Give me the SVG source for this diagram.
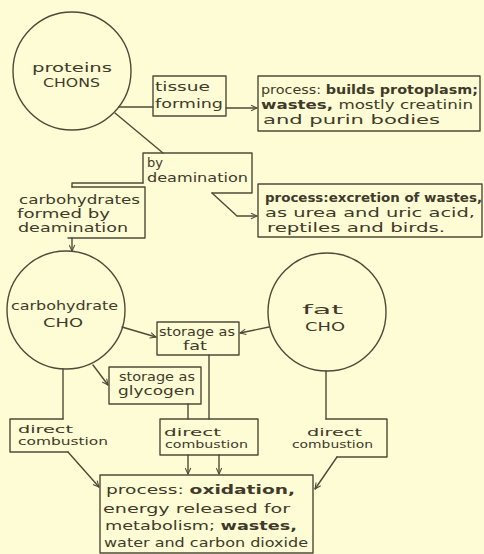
<svg xmlns="http://www.w3.org/2000/svg" width="484" height="554" viewBox="0 0 484 554">
<defs>
<style>
.ln{fill:none;stroke:#4f4a38;stroke-width:1.4;stroke-linecap:round;stroke-linejoin:round}
.t{font-family:"DejaVu Sans","Liberation Sans",sans-serif;fill:#3f3a2a;font-size:13px}
.s{font-size:10.5px}
.b{font-weight:bold}
</style>
<marker id="a" viewBox="0 0 10 10" refX="9.5" refY="5" markerWidth="7" markerHeight="7" orient="auto" markerUnits="userSpaceOnUse">
<path d="M1,1 L9.5,5 L1,9" fill="none" stroke="#4f4a38" stroke-width="1.5"/>
</marker>
</defs>
<rect x="0" y="0" width="484" height="554" fill="#fdfcd4"/>

<g id="connectors" class="ln">
<line x1="119" y1="107" x2="153" y2="107"/>
<line x1="226" y1="108" x2="257" y2="108" marker-end="url(#a)"/>
<line x1="115" y1="113" x2="163" y2="153"/>
<path d="M212,193 L237,216 L257,216" marker-end="url(#a)"/>
<path d="M143,183 H72 V187"/>
<line x1="72" y1="238" x2="72" y2="251" marker-end="url(#a)"/>
<line x1="122" y1="327" x2="156" y2="337" marker-end="url(#a)"/>
<line x1="269" y1="327" x2="240" y2="333" marker-end="url(#a)"/>
<line x1="93" y1="365" x2="108" y2="385" marker-end="url(#a)"/>
<line x1="63" y1="369" x2="63" y2="419"/>
<line x1="209" y1="355" x2="209" y2="419"/>
<line x1="188" y1="404" x2="188" y2="419"/>
<line x1="326" y1="371" x2="326" y2="419"/>
<line x1="68" y1="452" x2="99" y2="487" marker-end="url(#a)"/>
<line x1="188" y1="455" x2="188" y2="474" marker-end="url(#a)"/>
<line x1="219" y1="455" x2="219" y2="474" marker-end="url(#a)"/>
<line x1="337" y1="457" x2="315" y2="489" marker-end="url(#a)"/>
</g>

<g id="proteins">
<circle class="ln" cx="72" cy="71" r="59"/>
<text class="t" x="32" y="72" font-size="15" textLength="80" lengthAdjust="spacingAndGlyphs">proteins</text>
<text class="t" x="43" y="87" font-size="14" textLength="57" lengthAdjust="spacingAndGlyphs">CHONS</text>
</g>

<g id="tissue-forming">
<rect class="ln" x="153" y="76" width="73" height="40"/>
<text class="t" x="155" y="91" textLength="55" lengthAdjust="spacingAndGlyphs">tissue</text>
<text class="t" x="155" y="108" textLength="68" lengthAdjust="spacingAndGlyphs">forming</text>
</g>

<g id="process-protoplasm">
<rect class="ln" x="258" y="76" width="222" height="55"/>
<text class="t" x="261" y="94" font-size="14" textLength="217" lengthAdjust="spacingAndGlyphs">process: <tspan class="b">builds protoplasm;</tspan></text>
<text class="t" x="261" y="109" font-size="14" textLength="212" lengthAdjust="spacingAndGlyphs"><tspan class="b">wastes,</tspan> mostly creatinin</text>
<text class="t" x="263" y="124" font-size="14" textLength="177" lengthAdjust="spacingAndGlyphs">and  purin  bodies</text>
</g>

<g id="by-deamination">
<path class="ln" d="M143,183 V153 H252 V193 H212"/>
<text class="t" x="147" y="167">by</text>
<text class="t" x="147" y="182" textLength="101" lengthAdjust="spacingAndGlyphs">deamination</text>
</g>

<g id="process-excretion">
<rect class="ln" x="258" y="184" width="224" height="53"/>
<text class="t b" x="265" y="202" font-size="14" textLength="217" lengthAdjust="spacingAndGlyphs">process:excretion of wastes,</text>
<text class="t" x="265" y="217" font-size="14" textLength="210" lengthAdjust="spacingAndGlyphs">as urea and uric acid,</text>
<text class="t" x="267" y="232" font-size="14" textLength="178" lengthAdjust="spacingAndGlyphs">reptiles and birds.</text>
</g>

<g id="carbohydrates-formed">
<path class="ln" d="M72,187 H145 V238 H68"/>
<text class="t" x="19" y="204" textLength="121" lengthAdjust="spacingAndGlyphs">carbohydrates</text>
<text class="t" x="17" y="218" textLength="93" lengthAdjust="spacingAndGlyphs">formed  by</text>
<text class="t" x="18" y="232" textLength="110" lengthAdjust="spacingAndGlyphs">deamination</text>
</g>

<g id="carbohydrate">
<circle class="ln" cx="66" cy="310" r="59"/>
<text class="t" x="11" y="310" textLength="107" lengthAdjust="spacingAndGlyphs">carbohydrate</text>
<text class="t" x="43" y="327" font-size="14" textLength="40" lengthAdjust="spacingAndGlyphs">CHO</text>
</g>

<g id="fat">
<circle class="ln" cx="327" cy="312" r="59"/>
<text class="t" x="302" y="314" font-size="19" textLength="41" lengthAdjust="spacingAndGlyphs">fat</text>
<text class="t" x="305" y="331" font-size="14" textLength="40" lengthAdjust="spacingAndGlyphs">CHO</text>
</g>

<g id="storage-fat">
<rect class="ln" x="157" y="322" width="82" height="33"/>
<text class="t" x="159" y="336" font-size="11.5" textLength="76" lengthAdjust="spacingAndGlyphs">storage as</text>
<text class="t" x="183" y="350" font-size="11.5" textLength="24" lengthAdjust="spacingAndGlyphs">fat</text>
</g>

<g id="storage-glycogen">
<rect class="ln" x="109" y="367" width="92" height="37"/>
<text class="t" x="119" y="381" font-size="12" textLength="76" lengthAdjust="spacingAndGlyphs">storage as</text>
<text class="t" x="118" y="395" font-size="14" textLength="77" lengthAdjust="spacingAndGlyphs">glycogen</text>
</g>

<g id="combustion-1">
<path class="ln" d="M63,419 H10 V452 H68"/>
<text class="t s" x="18" y="433" textLength="55" lengthAdjust="spacingAndGlyphs">direct</text>
<text class="t s" x="18" y="445" textLength="90" lengthAdjust="spacingAndGlyphs">combustion</text>
</g>

<g id="combustion-2">
<rect class="ln" x="160" y="419" width="98" height="36"/>
<text class="t s" x="164" y="436" textLength="57" lengthAdjust="spacingAndGlyphs">direct</text>
<text class="t s" x="165" y="448" textLength="83" lengthAdjust="spacingAndGlyphs">combustion</text>
</g>

<g id="combustion-3">
<path class="ln" d="M326,419 H387 V457 H337"/>
<text class="t s" x="307" y="436" textLength="55" lengthAdjust="spacingAndGlyphs">direct</text>
<text class="t s" x="292" y="448" textLength="81" lengthAdjust="spacingAndGlyphs">combustion</text>
</g>

<g id="process-oxidation">
<rect class="ln" x="100" y="475" width="213" height="78"/>
<text class="t" x="106" y="494" font-size="15" textLength="189" lengthAdjust="spacingAndGlyphs">process: <tspan class="b">oxidation,</tspan></text>
<text class="t" x="103" y="513" font-size="14" textLength="187" lengthAdjust="spacingAndGlyphs">energy released for</text>
<text class="t" x="105" y="530" font-size="14" textLength="192" lengthAdjust="spacingAndGlyphs">metabolism; <tspan class="b">wastes,</tspan></text>
<text class="t" x="104" y="547" font-size="14" textLength="204" lengthAdjust="spacingAndGlyphs">water and carbon dioxide</text>
</g>
</svg>
